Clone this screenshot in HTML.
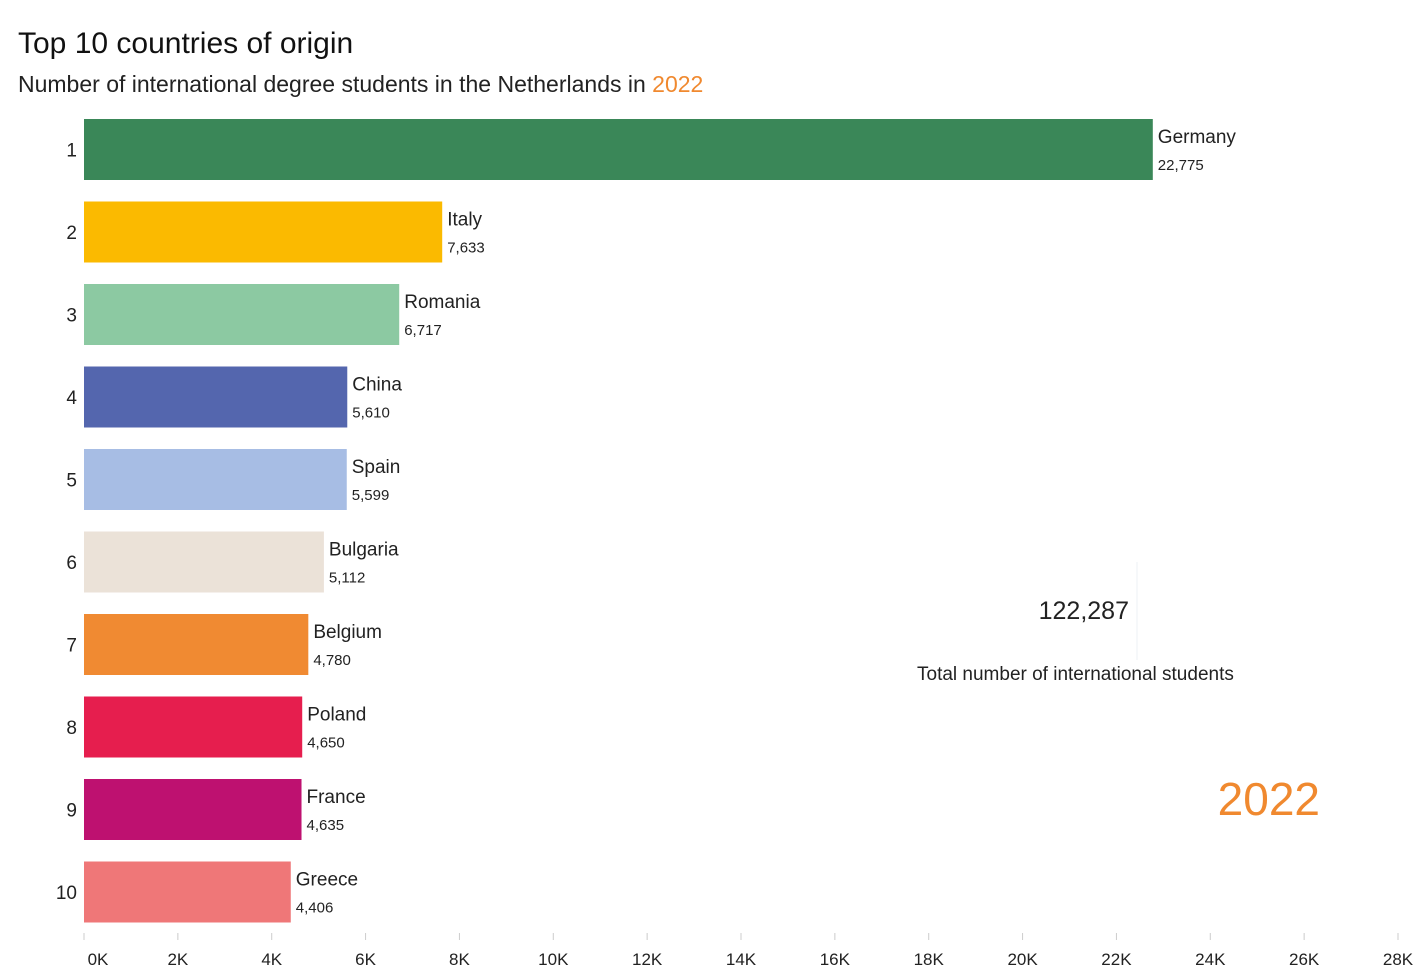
<!DOCTYPE html>
<html><head><meta charset="utf-8"><style>
body{margin:0;background:#fff;font-family:"Liberation Sans",sans-serif;}
</style></head><body>
<svg width="1428" height="975" xmlns="http://www.w3.org/2000/svg" id="chart" font-family="Liberation Sans, sans-serif">
<text x="18" y="53" font-size="30" fill="#111">Top 10 countries of origin</text>
<text x="18" y="92" font-size="23" fill="#222">Number of international degree students in the Netherlands in <tspan fill="#f0892f">2022</tspan></text>
<line x1="1137" y1="562" x2="1137" y2="660" stroke="#eef0f4" stroke-width="1"/>
<text x="1129" y="619" font-size="25" fill="#222" text-anchor="end">122,287</text>
<text x="917" y="680" font-size="19" fill="#222">Total number of international students</text>
<text x="1320" y="815" font-size="46" fill="#f0892f" text-anchor="end">2022</text>
<g id="bars"></g><g id="axis"></g>
</svg>
<script>
const countries=["Germany","Italy","Romania","China","Spain","Bulgaria","Belgium","Poland","France","Greece"];
const values=[22775,7633,6717,5610,5599,5112,4780,4650,4635,4406];
const colors=["#3a8758","#fbba00","#8cc9a2","#5466ae","#a7bde4","#ebe2d8","#f08a32","#e61e4e","#be1170","#ef7778"];
const tickValues=[0,2000,4000,6000,8000,10000,12000,14000,16000,18000,20000,22000,24000,26000,28000];
const tickLabels=["0K","2K","4K","6K","8K","10K","12K","14K","16K","18K","20K","22K","24K","26K","28K"];
const NS="http://www.w3.org/2000/svg";
const x=v=>84+v*(1314/28000);
const y=i=>119+i*82.5;
const bh=61;
const bars=document.getElementById('bars'),axis=document.getElementById('axis');
function mk(tag,attrs,parent,text){const e=document.createElementNS(NS,tag);for(const k in attrs)e.setAttribute(k,attrs[k]);if(text!==undefined)e.textContent=text;parent.appendChild(e);return e;}
values.forEach((v,i)=>{
 const r=mk('rect',{x:84,y:y(i),width:x(v)-84,height:bh,fill:colors[i]},bars);
 
 
 const rk=mk('text',{x:77,y:y(i)+bh/2+7,'font-size':19,fill:'#222','text-anchor':'end'},bars,String(i+1));
 
 
 const n=mk('text',{x:x(v)+5,y:y(i)+24,'font-size':19,fill:'#222'},bars,countries[i]);
 
 
 const vl=mk('text',{x:x(v)+5,y:y(i)+51,'font-size':15,fill:'#222'},bars,v.toLocaleString('en-US'));
 
 
});
tickValues.forEach((t,i)=>{
 const l=mk('line',{x1:x(t),x2:x(t),y1:933,y2:940,stroke:'#ccc','stroke-width':1},axis);
 
 
 const tx=mk('text',{x:i===0?x(t)+14:x(t),y:965,'font-size':17,fill:'#222','text-anchor':'middle'},axis,tickLabels[i]);
 
 
});
</script>
</body></html>
